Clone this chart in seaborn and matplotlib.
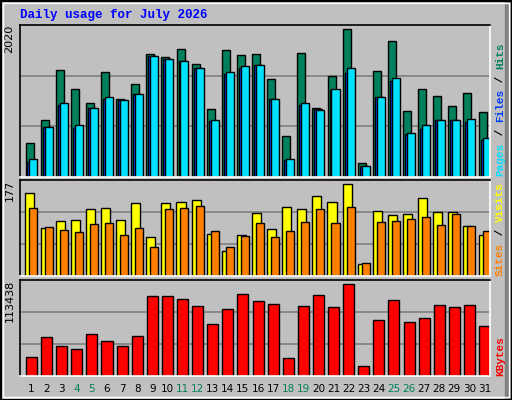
import numpy as np
import pandas as pd
import seaborn as sns
import matplotlib
matplotlib.use("Agg")
import matplotlib.pyplot as plt
from matplotlib.patches import Rectangle

days = list(range(1, 32))
hits = [457, 755, 1416, 1176, 977, 1390, 1030, 1230, 1629, 1589, 1696, 1496, 910, 1683, 1616, 1629,
        1296, 550, 1643, 923, 1336, 1962, 191, 1403, 1802, 883, 1163, 1083, 950, 1110, 870]
files = [195, 670, 963, 657, 923, 1030, 1017, 1097, 1603, 1563, 1536, 1443, 750, 1363, 1443, 1483,
         1043, 231, 963, 910, 1150, 1376, 147, 1057, 1270, 577, 644, 764, 764, 737, 497]
pages = [235, 670, 990, 697, 923, 1057, 1017, 1097, 1603, 1563, 1536, 1443, 764, 1390, 1469, 1483,
         1043, 244, 977, 897, 1163, 1443, 151, 1057, 1310, 590, 697, 764, 764, 777, 524]
visits = [153, 88, 101, 103, 123, 125, 103, 134, 72, 134, 136, 140, 77, 46, 76, 116,
          87, 127, 123, 147, 136, 169, 23, 120, 112, 114, 143, 118, 118, 92, 76]
sites = [125, 90, 85, 81, 96, 98, 76, 88, 54, 123, 125, 129, 83, 54, 74, 98,
         72, 83, 99, 123, 98, 127, 24, 99, 101, 105, 109, 94, 114, 92, 83]
kbytes = [22057, 45690, 35055, 31510, 49235, 40964, 35055, 46872, 94138, 94138, 90593, 82321, 61052,
          78776, 96501, 88229, 84684, 20876, 82321, 95320, 81140, 108317, 11423, 65779, 89411,
          63416, 68142, 83502, 81140, 83502, 58688]
weekend = [4, 5, 11, 12, 18, 19, 25, 26]
max_hits, max_visits, max_kb = 2020, 177, 113438

sns.set_style("white")
plt.rcParams['font.family'] = ['DejaVu Sans']
BG = "#C0C0C0"
W, H = 512, 400
fig = plt.figure(figsize=(W / 100, H / 100), dpi=100, facecolor=BG)

def px_axes(x0, y0, x1, y1):
    return fig.add_axes([x0 / W, 1 - y1 / H, (x1 - x0) / W, (y1 - y0) / H])

mono = 'Liberation Mono'
d = np.array(days, dtype=float)

def panel(ax, series, ymax, label):
    ax.set_facecolor(BG)
    for off, w, vals, col in series:
        sns.barplot(x=d + off, y=vals, native_scale=True, width=w, color=col,
                    edgecolor="black", linewidth=1.0, saturation=1, ax=ax)
    ax.set_xlim(0.24, 31.36)
    ax.set_ylim(0, ymax)
    for g in (ymax / 3, 2 * ymax / 3):
        ax.axhline(g, color="#808080", lw=1.2, zorder=0)
    ax.set_xticks([]); ax.set_yticks([])
    ax.set_xlabel(""); ax.set_ylabel("")
    for s in ax.spines.values():
        s.set_linewidth(1.2)
    ax.spines['top'].set_color('black'); ax.spines['left'].set_color('black')
    ax.spines['right'].set_color('white'); ax.spines['bottom'].set_color('white')
    ax.text(-0.012, 1.0, label, transform=ax.transAxes, rotation=90, ha='right', va='top',
            fontsize=8, color='black')

ax1 = px_axes(20, 25, 490, 177)
panel(ax1, [(-0.13, 0.53, hits, "#00805C"), (0.0, 0.53, files, "#0040FF"),
            (0.13, 0.53, pages, "#00E0FF")], max_hits, str(max_hits))
ax2 = px_axes(20, 180, 490, 276)
panel(ax2, [(-0.1, 0.6, visits, "#FFFF00"), (0.13, 0.53, sites, "#FF8000")], max_visits, str(max_visits))
ax3 = px_axes(20, 280, 490, 376)
panel(ax3, [(0.0, 0.73, kbytes, "#FF0000")], max_kb, str(max_kb))

for dd in days:
    fig.text((20 + (dd - 0.24) / 31.12 * 470) / W, 1 - 389 / H, str(dd), ha='center', va='center',
             fontsize=7.5, color="#00805C" if dd in weekend else "black")

fig.text(20 / W, 1 - 15 / H, "Daily usage for July 2026", fontsize=9, fontweight='bold',
         family=mono, color="#0000FF", va='center', ha='left')

def side(parts, y_bottom):
    y = y_bottom
    for txt, col in parts:
        t = fig.text(500 / W, 1 - y / H, txt, rotation=90, ha='center', va='bottom',
                     fontsize=8, family=mono, fontweight='bold', color=col)
        y -= len(txt) * 6.7

side([("Pages", "#00E0FF"), (" / ", "black"), ("Files", "#0040FF"), (" / ", "black"),
      ("Hits", "#00805C")], 176)
side([("Sites", "#FF8000"), (" / ", "black"), ("Visits", "#FFFF00")], 276)
side([("KBytes", "#FF0000")], 376)

# frame
fig.patches.append(Rectangle((505 / W, 0), 7 / W, 1, transform=fig.transFigure, color="#808080"))
fig.patches.append(Rectangle((0.5 / W, 0.5 / H), (W - 1) / W, (H - 1) / H, transform=fig.transFigure,
                             fill=False, edgecolor="black", lw=1.5))
fig.patches.append(Rectangle((3 / W, 3 / H), (W - 6) / W, (H - 6) / H, transform=fig.transFigure,
                             fill=False, edgecolor="white", lw=1))

fig.savefig("out.png", dpi=100, facecolor=BG)
